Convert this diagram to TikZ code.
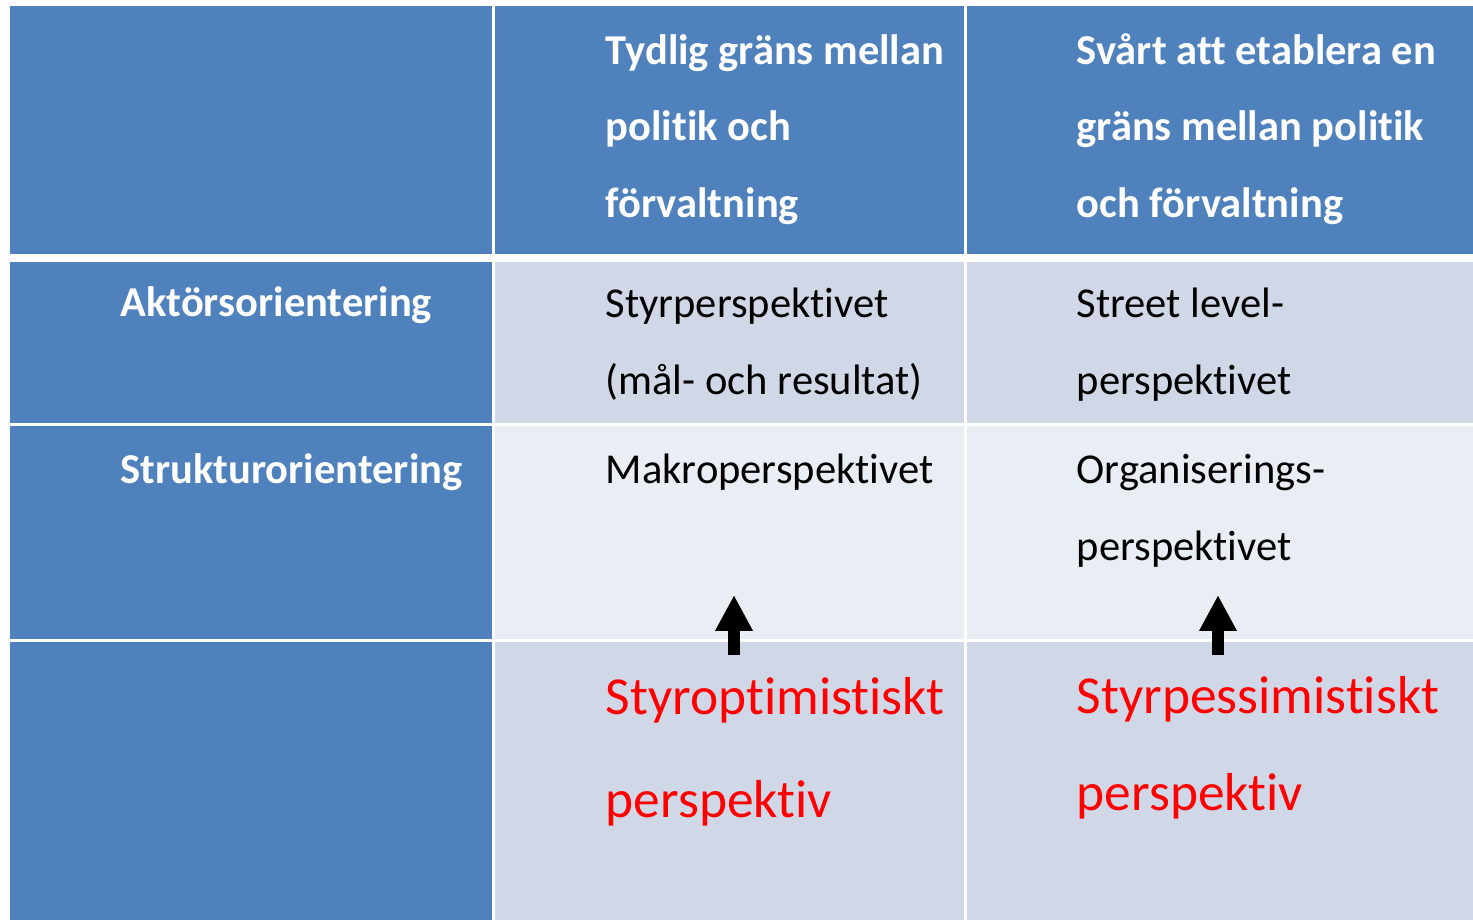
\documentclass[tikz,border=0pt]{standalone}
\usepackage{fontspec}
\setmainfont{Carlito}[Ligatures=NoCommon]
\usetikzlibrary{arrows.meta}
\definecolor{cellblue}{HTML}{4F81BD}
\definecolor{bandone}{HTML}{D0D8E8}
\definecolor{bandtwo}{HTML}{E9EDF4}
\definecolor{perspred}{HTML}{FF0000}

\begin{document}
\begin{tikzpicture}[x=0.01cm,y=-0.01cm,
  hd/.style={anchor=base west,inner sep=0pt,align=left,text=white,font=\fontsize{12.1}{21.7}\selectfont\bfseries},
  bd/.style={anchor=base west,inner sep=0pt,align=left,font=\fontsize{12.1}{21.8}\selectfont},
  rd/.style={anchor=base west,inner sep=0pt,align=left,text=perspred,font=\fontsize{15.2}{29.2}\selectfont},
  uparrow/.style={line width=3.3pt,-{Triangle[width=10pt,length=10.2pt]}}]
% page
\fill[white] (0,0) rectangle (1473,920);
\useasboundingbox (0,0) rectangle (1473,920);
% header row
\fill[cellblue] (10,6) rectangle (492,254);
\fill[cellblue] (495,6) rectangle (964,254);
\fill[cellblue] (967,6) rectangle (1473,254);
% left column
\fill[cellblue] (10,262) rectangle (492,423);
\fill[cellblue] (10,426) rectangle (492,639);
\fill[cellblue] (10,642) rectangle (492,920);
% body cells
\fill[bandone] (495,262) rectangle (964,423);
\fill[bandone] (967,262) rectangle (1473,423);
\fill[bandtwo] (495,426) rectangle (964,639);
\fill[bandtwo] (967,426) rectangle (1473,639);
\fill[bandone] (495,642) rectangle (964,920);
\fill[bandone] (967,642) rectangle (1473,920);
% header labels (base = last line)
\node[hd] (tydlig) at (605,217) {Tydlig gräns mellan\\politik och\\förvaltning};
\node[hd] (svart) at (1076,217) {Svårt att etablera en\\gräns mellan politik\\och förvaltning};
% row labels
\node[hd] (aktor) at (120,316) {Aktörsorientering};
\node[hd] (struktur) at (120,483) {Strukturorientering};
% cell texts
\node[bd] (styr) at (605,394) {Styrperspektivet\\(mål- och resultat)};
\node[bd] (street) at (1076,394) {Street level-\\perspektivet};
\node[bd] (makro) at (605,483) {Makroperspektivet};
\node[bd] (organ) at (1076,560) {Organiserings-\\perspektivet};
% red perspectives
\node[rd] (optim) at (605,817) {Styroptimistiskt\\perspektiv};
\node[rd,font=\fontsize{15.2}{27.5}\selectfont] (pessim) at (1076,810) {Styrpessimistiskt\\perspektiv};
% arrows
\coordinate (optimfoot) at (734,655);
\coordinate (optimtip) at (734,595);
\coordinate (pessimfoot) at (1218,655);
\coordinate (pessimtip) at (1218,595);
\draw[uparrow] (optimfoot) -- (optimtip);
\draw[uparrow] (pessimfoot) -- (pessimtip);
\end{tikzpicture}
\end{document}
